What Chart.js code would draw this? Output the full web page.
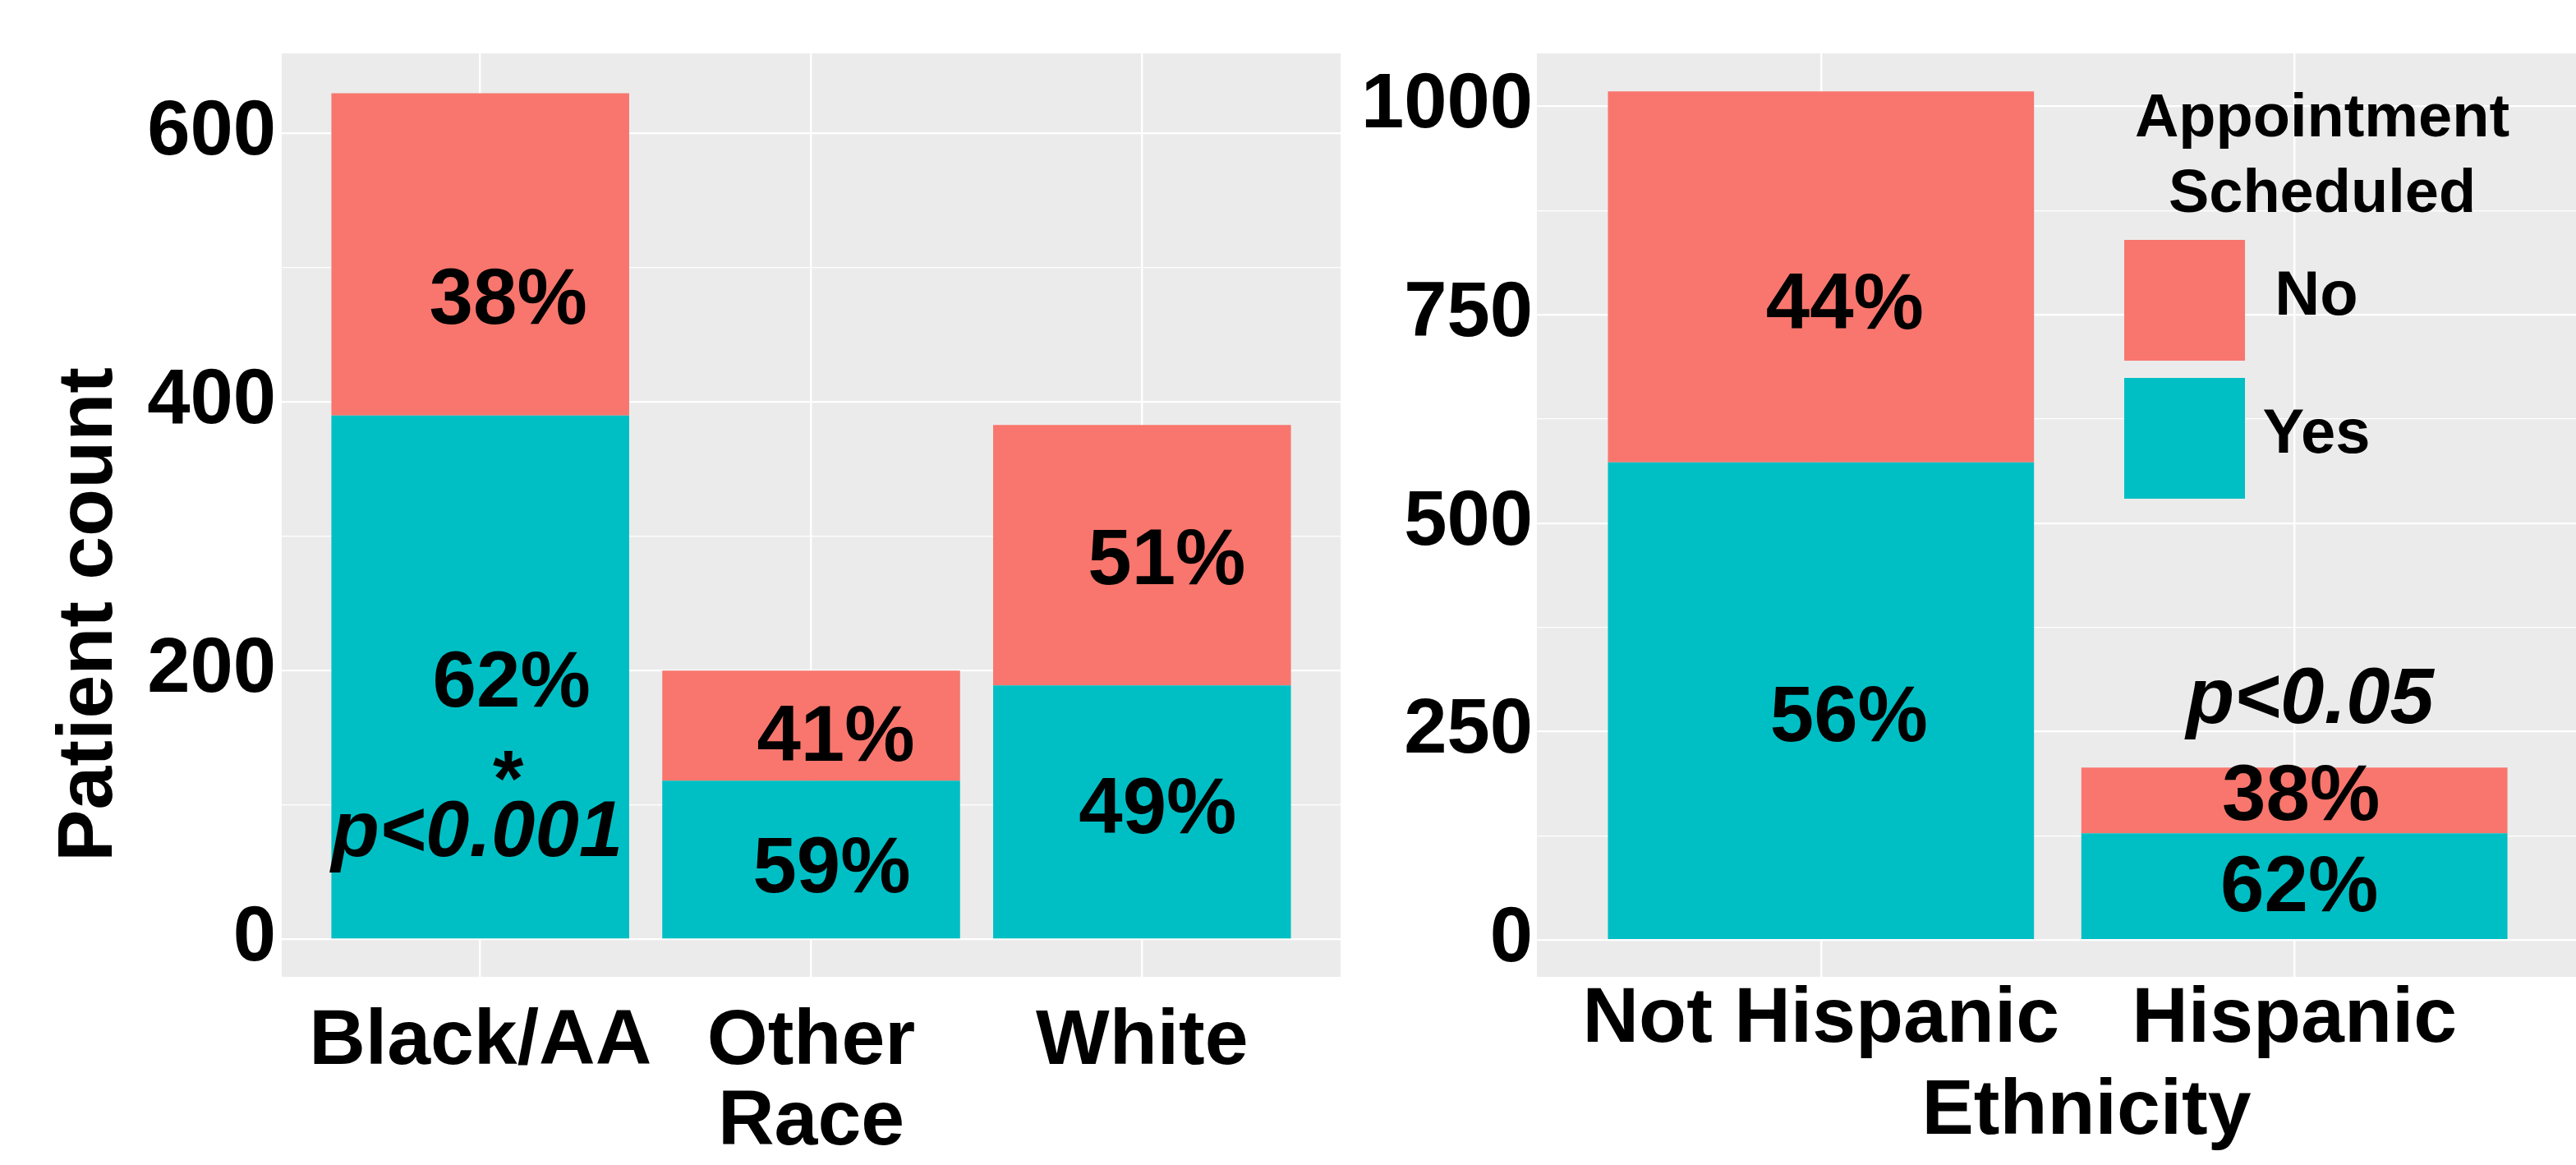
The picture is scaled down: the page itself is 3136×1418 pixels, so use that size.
<!DOCTYPE html>
<html>
<head>
<meta charset="utf-8">
<script src="https://cdn.jsdelivr.net/npm/chart.js@4.4.1/dist/chart.umd.min.js"></script>
<style>
  html, body { margin: 0; padding: 0; background: #fff; overflow: hidden; }
  #wrap { position: relative; width: 3136px; height: 1418px; overflow: hidden; }
  canvas { position: absolute; top: 0; }
  #race { left: 0; }
  #ethnicity { left: 1650px; }
</style>
</head>
<body>
<div id="wrap">
  <canvas id="race" width="1650" height="1418"></canvas>
  <canvas id="ethnicity" width="1500" height="1418"></canvas>
</div>
<script>
// patient counts by race
const raceLabels = ['Black/AA', ['Other', 'Race'], 'White'];
const raceYes = [390, 118, 189];
const raceNo = [240, 82, 194];
const raceTicks = [0, 200, 400, 600];
const raceMinorTicks = [100, 300, 500];

// patient counts by ethnicity
const ethLabels = ['Not Hispanic', 'Hispanic'];
const ethYes = [573, 128];
const ethNo = [445, 79];
const ethTicks = [0, 250, 500, 750, 1000];
const ethMinorTicks = [125, 375, 625, 875];

const FONT = '"Liberation Sans", Arial, Helvetica, sans-serif';
const RED = '#F8766D';
const TEAL = '#00BFC4';

Chart.defaults.font.family = FONT;
Chart.defaults.color = '#000';

// grey ggplot-like panel behind the grid
const panelBackground = {
  id: 'panelBackground',
  beforeDraw(chart) {
    const { ctx, chartArea: a } = chart;
    ctx.save();
    ctx.fillStyle = '#EBEBEB';
    ctx.fillRect(a.left, a.top, a.right - a.left, a.bottom - a.top);
    ctx.restore();
  }
};

// percent of each bar, plus the significance notes
const barPercents = {
  id: 'barPercents',
  afterDatasetsDraw(chart, args, opts) {
    const { ctx } = chart;
    const sets = chart.data.datasets;
    ctx.save();
    ctx.fillStyle = '#000';
    ctx.textAlign = 'center';
    ctx.textBaseline = 'middle';
    ctx.font = `bold 96px ${FONT}`;
    sets.forEach((ds, d) => {
      chart.getDatasetMeta(d).data.forEach((bar, i) => {
        const total = sets.reduce((s, o) => s + o.data[i].y, 0);
        const pct = Math.round(ds.data[i].y / total * 100);
        const [dx, dy] = opts.nudge[d][i];
        ctx.fillText(pct + '%', bar.x + dx, (bar.y + bar.base) / 2 + dy);
      });
    });
    const xs = chart.scales.x;
    const ys = chart.scales.y;
    ctx.textBaseline = 'alphabetic';
    (opts.notes || []).forEach(n => {
      ctx.font = `${n.italic ? 'italic ' : ''}bold 96px ${FONT}`;
      ctx.fillText(n.text, xs.getPixelForValue(n.at) + n.dx, ys.getPixelForValue(n.y));
    });
    ctx.restore();
  }
};

// axis titles placed by hand
const axisTitles = {
  id: 'axisTitles',
  afterDraw(chart, args, opts) {
    const { ctx } = chart;
    (opts.items || []).forEach(t => {
      ctx.save();
      ctx.fillStyle = '#000';
      ctx.font = `bold ${t.size}px ${FONT}`;
      ctx.textAlign = 'center';
      ctx.textBaseline = 'middle';
      ctx.translate(t.x, t.y);
      if (t.rotate) ctx.rotate(-Math.PI / 2);
      ctx.fillText(t.text, 0, 0);
      ctx.restore();
    });
  }
};

// legend with big square keys, drawn over the panel
const keyLegend = {
  id: 'keyLegend',
  afterDraw(chart, args, opts) {
    if (!opts.show) return;
    const { ctx } = chart;
    ctx.save();
    ctx.fillStyle = '#000';
    ctx.textAlign = 'center';
    ctx.textBaseline = 'alphabetic';
    ctx.font = `bold 74px ${FONT}`;
    opts.title.forEach((line, k) => ctx.fillText(line, opts.titleX, opts.titleY + k * 92));
    opts.order.forEach((d, k) => {
      const ds = chart.data.datasets[d];
      const top = opts.keyY + k * opts.keyStep;
      ctx.fillStyle = ds.backgroundColor;
      ctx.fillRect(opts.keyX, top, opts.keySize, opts.keySize);
      ctx.fillStyle = '#000';
      ctx.textBaseline = 'middle';
      ctx.font = `bold 76px ${FONT}`;
      ctx.fillText(ds.label, opts.labelX, top + opts.keySize / 2 - 3);
    });
    ctx.restore();
  }
};

function makePanel(id, cfg) {
  const ctx = document.getElementById(id).getContext('2d');
  const majors = cfg.ticks;
  const allTicks = [...cfg.ticks, ...cfg.minor].sort((a, b) => a - b);
  return new Chart(ctx, {
    type: 'bar',
    data: {
      datasets: [
        { label: 'Yes', data: cfg.yes.map((v, i) => ({ x: i, y: v })), backgroundColor: TEAL },
        { label: 'No', data: cfg.no.map((v, i) => ({ x: i, y: v })), backgroundColor: RED }
      ]
    },
    options: {
      responsive: false,
      animation: false,
      events: [],
      layout: { padding: { top: 65, right: cfg.padRight, bottom: 0, left: 0 } },
      datasets: { bar: { categoryPercentage: 0.9, barPercentage: 1, borderWidth: 0 } },
      plugins: {
        legend: { display: false },
        tooltip: { enabled: false },
        barPercents: { nudge: cfg.nudge, notes: cfg.notes },
        axisTitles: { items: cfg.titles },
        keyLegend: cfg.legend || { show: false }
      },
      scales: {
        x: {
          type: 'linear',
          stacked: true,
          offset: false,
          min: -0.6,
          max: cfg.labels.length - 0.4,
          afterBuildTicks: axis => { axis.ticks = cfg.labels.map((_, i) => ({ value: i })); },
          afterFit: axis => { axis.height = 229; },
          grid: { color: '#fff', lineWidth: 2.4, drawTicks: false, offset: false },
          border: { display: false },
          ticks: {
            callback: v => cfg.labels[v],
            font: { size: 95, weight: 'bold', lineHeight: 1.04 },
            padding: cfg.xPad,
            maxRotation: 0,
            autoSkip: false
          }
        },
        y: {
          stacked: true,
          min: cfg.yMin,
          max: cfg.yMax,
          afterBuildTicks: axis => { axis.ticks = allTicks.map(v => ({ value: v })); },
          afterFit: axis => { axis.width = cfg.yWidth; },
          grid: {
            color: '#fff',
            lineWidth: c => majors.includes(c.tick.value) ? 2.2 : 1.2,
            drawTicks: false
          },
          border: { display: false },
          ticks: {
            callback: v => majors.includes(v) ? String(v) : '',
            font: { size: 94, weight: 'bold' },
            padding: cfg.yPad,
            autoSkip: false
          }
        }
      }
    },
    plugins: [panelBackground, barPercents, axisTitles, keyLegend]
  });
}

makePanel('race', {
  labels: raceLabels, yes: raceYes, no: raceNo,
  ticks: raceTicks, minor: raceMinorTicks,
  yMin: -28, yMax: 659.6,
  yWidth: 343, padRight: 18, xPad: 30, yPad: 7,
  nudge: [[[38, 10], [25, 13], [19, -1]], [[34, 58], [30, 16], [30, 9]]],
  notes: [
    { at: 0, y: 100, text: '*', italic: false, dx: 34 },
    { at: 0, y: 62, text: 'p<0.001', italic: true, dx: -4 }
  ],
  titles: [{ text: 'Patient count', x: 110, y: 748, size: 95, rotate: true }]
});

makePanel('ethnicity', {
  labels: ethLabels, yes: ethYes, no: ethNo,
  ticks: ethTicks, minor: ethMinorTicks,
  yMin: -44.2, yMax: 1063.6,
  yWidth: 221, padRight: 11, xPad: 3, yPad: 5,
  nudge: [[[34, 23], [6, 4]], [[29, 37], [8, -3]]],
  notes: [{ at: 1, y: 260, text: 'p<0.05', italic: true, dx: 19 }],
  titles: [{ text: 'Ethnicity', x: 890, y: 1354, size: 95 }],
  legend: {
    show: true,
    title: ['Appointment', 'Scheduled'],
    titleX: 1177, titleY: 166,
    order: [1, 0],
    keyX: 936, keyY: 292, keySize: 147, keyStep: 168,
    labelX: 1170
  }
});
</script>
</body>
</html>
